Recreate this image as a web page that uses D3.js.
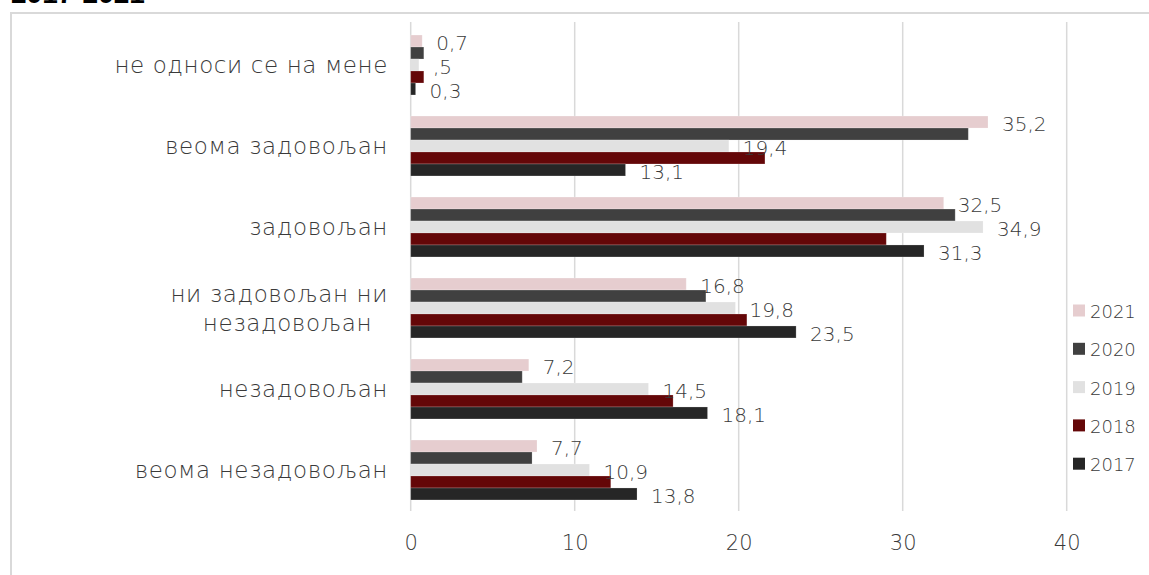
<!DOCTYPE html>
<html>
<head>
<meta charset="utf-8">
<script src="https://cdn.jsdelivr.net/npm/d3@7"></script>
<style>
  html, body { margin: 0; padding: 0; background: #ffffff; }
  svg { display: block; }
</style>
</head>
<body>
<svg id="chart" width="1149" height="575"></svg>
<script>
// ---- data ----
const categories = [
  "не односи се на мене",
  "веома задовољан",
  "задовољан",
  "ни задовољан ни незадовољан",
  "незадовољан",
  "веома незадовољан"
];
const categoryLines = [
  ["не односи се на мене"],
  ["веома задовољан"],
  ["задовољан"],
  ["ни задовољан ни", "незадовољан\u00a0\u00a0"],
  ["незадовољан"],
  ["веома незадовољан"]
];
const seriesNames = ["2021", "2020", "2019", "2018", "2017"];
const values2021 = [0.7, 35.2, 32.5, 16.8, 7.2, 7.7];
const values2020 = [0.8, 34.0, 33.2, 18.0, 6.8, 7.4];
const values2019 = [0.5, 19.4, 34.9, 19.8, 14.5, 10.9];
const values2018 = [0.8, 21.6, 29.0, 20.5, 16.0, 12.2];
const values2017 = [0.3, 13.1, 31.3, 23.5, 18.1, 13.8];
const labels2021 = ["0,7", "35,2", "32,5", "16,8", "7,2", "7,7"];
const labels2019 = [",5", "19,4", "34,9", "19,8", "14,5", "10,9"];
const labels2017 = ["0,3", "13,1", "31,3", "23,5", "18,1", "13,8"];
const xTicks = [0, 10, 20, 30, 40];
const titleText = "2017-2021";

const seriesValues = [values2021, values2020, values2019, values2018, values2017];
const seriesLabels = [labels2021, null, labels2019, null, labels2017];
const colors = ["#e6cdcf", "#404040", "#e1e1e1", "#640708", "#262626"];

// ---- layout ----
const FONT = "'DejaVu Sans', 'Noto Sans', sans-serif";
const WEIGHT = 200;
const TEXT = "#3a3a3a";
const svg = d3.select("#chart");

const x = d3.scaleLinear().domain([0, 40]).range([410.7, 1066.7]);
const y = d3.scaleBand().domain(categories).range([24.5, 510.5])
  .paddingInner(0.26).paddingOuter(0.13);
const yInner = d3.scaleBand().domain(seriesNames).range([0, y.bandwidth()]);

// title (cropped at the top)
svg.append("text").attr("x", 11).attr("y", 3)
  .attr("font-family", "'Liberation Sans', Arial, sans-serif")
  .attr("font-weight", "bold").attr("font-size", 28).attr("fill", "#000")
  .text(titleText);

// chart frame
svg.append("rect").attr("x", 11).attr("y", 13).attr("width", 1150).attr("height", 570)
  .attr("fill", "none").attr("stroke", "#d9d9d9").attr("stroke-width", 2);

// gridlines
svg.append("g").selectAll("line").data(xTicks).join("line")
  .attr("x1", d => x(d)).attr("x2", d => x(d))
  .attr("y1", 22).attr("y2", 511)
  .attr("stroke", "#d9d9d9").attr("stroke-width", 1.5);

// x axis labels
const xAxis = d3.axisBottom(x).tickValues(xTicks).tickSize(0).tickPadding(0)
  .tickFormat(d3.format("d"));
const gx = svg.append("g").attr("transform", "translate(0,535)").call(xAxis);
gx.select(".domain").remove();
gx.selectAll("text").attr("font-family", FONT).attr("font-weight", WEIGHT)
  .attr("font-size", 21).attr("fill", TEXT).attr("dy", "0.71em");

// bars
const groups = svg.append("g").selectAll("g").data(seriesNames).join("g")
  .attr("fill", (d, i) => colors[i]);
groups.each(function(s, si) {
  d3.select(this).selectAll("rect").data(categories).join("rect")
    .attr("x", x(0))
    .attr("y", (c) => y(c) + yInner(s))
    .attr("width", (c, ci) => x(seriesValues[si][ci]) - x(0))
    .attr("height", yInner.bandwidth())
    .attr("stroke", "#ffffff").attr("stroke-opacity", 0.25).attr("stroke-width", 0.8);
});

// data labels
seriesNames.forEach((s, si) => {
  const lbl = seriesLabels[si];
  if (!lbl) return;
  svg.append("g").selectAll("text").data(categories).join("text")
    .attr("x", (c, ci) => x(seriesValues[si][ci]) + 14)
    .attr("y", c => y(c) + yInner(s) + yInner.bandwidth() / 2 + 2)
    .attr("dominant-baseline", "central")
    .attr("font-family", FONT).attr("font-weight", WEIGHT)
    .attr("font-size", 20).attr("fill", TEXT)
    .text((c, ci) => lbl[ci]);
});

// category labels
categories.forEach((c, ci) => {
  const lines = categoryLines[ci];
  const cy = y(c) + y.bandwidth() / 2;
  const lh = 29;
  lines.forEach((ln, li) => {
    svg.append("text")
      .attr("x", 388)
      .attr("y", cy + (li - (lines.length - 1) / 2) * lh)
      .attr("text-anchor", "end").attr("dominant-baseline", "central")
      .attr("font-family", FONT).attr("font-weight", WEIGHT)
      .attr("font-size", 23).attr("letter-spacing", 0.6)
      .attr("fill", TEXT)
      .text(ln);
  });
});

// legend
const legend = svg.append("g").selectAll("g").data(seriesNames).join("g")
  .attr("transform", (d, i) => `translate(1073,${310.5 + i * 38.3})`);
legend.append("rect").attr("x", 0).attr("y", -6).attr("width", 12).attr("height", 12)
  .attr("fill", (d, i) => colors[i]);
legend.append("text").attr("x", 17).attr("y", 1).attr("dominant-baseline", "central")
  .attr("font-family", FONT).attr("font-weight", WEIGHT)
  .attr("font-size", 18).attr("fill", TEXT)
  .text(d => d);
</script>
</body>
</html>
